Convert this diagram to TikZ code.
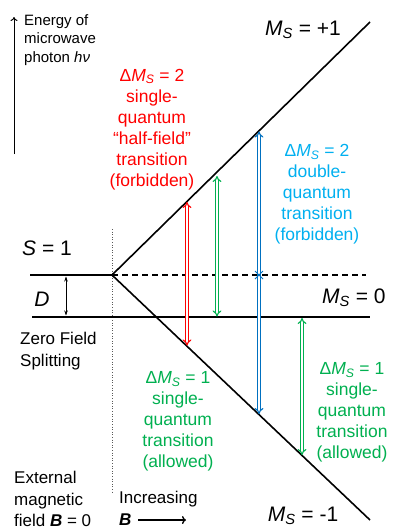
\documentclass[tikz,border=0pt]{standalone}
\usepackage{fontspec}
\setmainfont{Liberation Sans}
\usetikzlibrary{arrows.meta,calc}
\definecolor{myred}{RGB}{255,0,0}
\definecolor{mygreen}{RGB}{0,176,80}
\definecolor{myblue}{RGB}{0,112,192}
\definecolor{mylblue}{RGB}{0,176,240}
\newcommand{\MSsym}{\textit{M}\textsubscript{\textit{S}}}
\tikzset{
  level/.style={line width=1.6pt, black},
  trans/.style={double, double distance=1.8pt, line width=1.1pt, {Implies}-{Implies}},
  bigtxt/.style={font=\fontsize{21}{24}\selectfont, inner sep=0pt},
  blocktxt/.style={font=\fontsize{17.5}{21}\selectfont, align=center, inner sep=0pt},
  lefttxt/.style={font=\fontsize{17}{21.5}\selectfont, align=left, inner sep=0pt, anchor=west},
}
\begin{document}
\begin{tikzpicture}[x=1pt,y=-1pt]
\useasboundingbox[fill=white] (0,0) rectangle (394,530);
% key coordinates
\coordinate (O) at (112,275);
\coordinate (UP) at (370,22);
\coordinate (LO) at (370,520);
\coordinate (S1L) at (30,275);
\coordinate (DashR) at (366,275);
\coordinate (M0L) at (32,317);
\coordinate (M0R) at (370,317);
% dotted zero-field line
\coordinate (DotT) at (112,229);
\coordinate (DotB) at (112,494);
\draw[gray!70!black, line width=0.6pt, dash pattern=on 1pt off 1.6pt] (DotT) -- (DotB);
% energy axis
\coordinate (EnB) at (14,154);
\coordinate (EnT) at (14,17);
\draw[line width=1pt, -{To[length=4pt,width=7pt]}] (EnB) -- (EnT);
\node[lefttxt, font=\fontsize{15}{18.5}\selectfont] (energy) at (24,40) {Energy of\\microwave\\photon \textit{hν}};
% levels
\draw[level] (S1L) -- (O) -- (UP);
\draw[level] (O) -- (LO);
\draw[level] (M0L) -- (M0R);
\draw[line width=1.2pt, dash pattern=on 6pt off 4pt] (O) -- (DashR);
% D arrow
\coordinate (DT) at (66,276.5);
\coordinate (DB) at (66,315.5);
\draw[line width=0.6pt, {Stealth[length=5pt,width=3.5pt]}-{Stealth[length=5pt,width=3.5pt]}] (DT) -- (DB);
% transition arrows
\coordinate (RT) at (187,202);
\coordinate (RB) at (187,345.5);
\coordinate (G1T) at (217,176);
\coordinate (G1B) at (217,316.5);
\coordinate (BT) at (259,131.5);
\coordinate (BB) at (259,414);
\coordinate (G2T) at (302,318);
\coordinate (G2B) at (302,455);
\draw[trans, myred] (RB) -- (RT);
\draw[trans, mygreen] (G1B) -- (G1T);
\draw[trans, myblue] (BB) -- (BT);
\draw[trans, mygreen] (G2B) -- (G2T);
% small cross where the blue arrow meets the dashed line
\coordinate (X1) at (255,271);
\coordinate (X2) at (263,279);
\coordinate (X3) at (255,279);
\coordinate (X4) at (263,271);
\draw[myblue, line width=0.8pt] (X1) -- (X2) (X3) -- (X4);
% labels
\node[bigtxt, anchor=west] (s1) at (22,248) {\textit{S} = 1};
\node[bigtxt] (d) at (42,299) {\textit{D}};
\node[lefttxt] (zfs) at (20,351) {Zero Field\\Splitting};
\node[lefttxt] (ext) at (14,499) {External\\magnetic\\field \textbf{\textit{B}} = 0};
\node[lefttxt] (inc) at (119,499) {Increasing};
\node[lefttxt] (bB) at (119,520) {\textbf{\textit{B}}};
\coordinate (IncL) at (138,520);
\coordinate (IncR) at (186,520);
\draw[line width=1.4pt, -{To[length=4pt,width=8pt]}] (IncL) -- (IncR);
\node[bigtxt] (msp) at (303,30) {\MSsym{} = +1};
\node[bigtxt, anchor=west] (ms0) at (322,298) {\MSsym{} = 0};
\node[bigtxt] (msm) at (303,516) {\MSsym{} = -1};
% transition texts
\node[blocktxt, text=myred] (redtxt) at (152,129.5) {Δ\MSsym{} = 2\\single-\\quantum\\“half-field”\\transition\\(forbidden)};
\node[blocktxt, text=mylblue] (bluetxt) at (317,194.5) {Δ\MSsym{} = 2\\double-\\quantum\\transition\\(forbidden)};
\node[blocktxt, text=mygreen] (g1txt) at (178,421.5) {Δ\MSsym{} = 1\\single-\\quantum\\transition\\(allowed)};
\node[blocktxt, text=mygreen] (g2txt) at (352,412.5) {Δ\MSsym{} = 1\\single-\\quantum\\transition\\(allowed)};
\end{tikzpicture}
\end{document}
